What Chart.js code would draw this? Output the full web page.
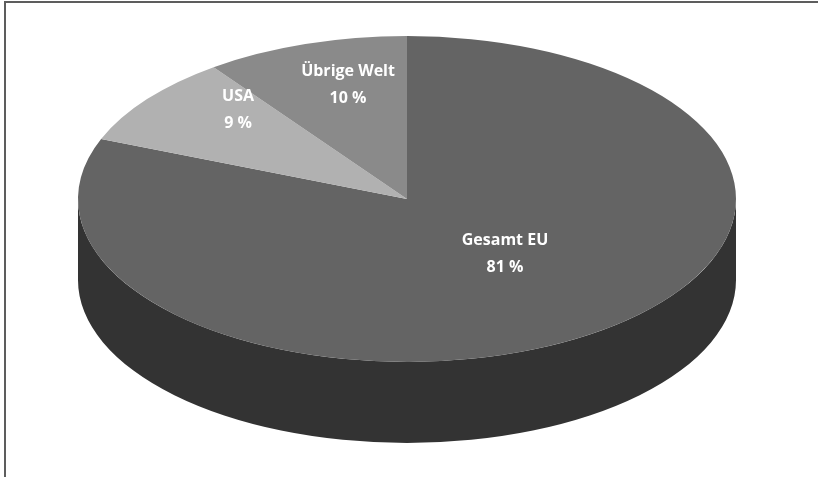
<!DOCTYPE html>
<html lang="de">
<head>
  <meta charset="UTF-8">
  <title>Anteile</title>
  <script src="https://cdn.jsdelivr.net/npm/chart.js"></script>
  <style>
    html, body { margin: 0; padding: 0; background: #fff; overflow: hidden; }
    #wrap { position: relative; width: 818px; height: 477px; }
  </style>
</head>
<body>
  <div id="wrap">
    <canvas id="pieChart" width="818" height="477"></canvas>
  </div>

<script>
  const regions = ['Gesamt EU', 'USA', 'Übrige Welt']
  const shares = [81, 9, 10]
  const topColors = ['#646464', '#b1b1b1', '#8a8a8a']
  const sideColors = ['#333333', '#5e5e5e', '#474747']

  // how far out each label sits, as a fraction of the radius (x, y)
  const labelReach = [[0.53, 0.41], [0.65, 0.89], [0.58, 0.735]]
  const depth = 81

  function ellipseCenter(chart) {
    const a = chart.chartArea
    return {
      cx: (a.left + a.right) / 2,
      cy: (a.top + a.bottom) / 2,
      sx: (a.right - a.left) / (a.bottom - a.top)
    }
  }

  // squashes the round pie into a tilted disc and draws its rim
  const tiltPlugin = {
    id: 'tilt',
    beforeDraw(chart) {
      const ctx = chart.ctx
      ctx.save()
      ctx.fillStyle = '#5d5d5d'
      ctx.fillRect(4, 1, 2, chart.height)
      ctx.fillRect(4, 1, chart.width, 2)
      ctx.restore()
    },
    beforeDatasetsDraw(chart) {
      const ctx = chart.ctx
      const { cx, cy, sx } = ellipseCenter(chart)
      const arcs = chart.getDatasetMeta(0).data

      ctx.save()
      ctx.translate(cx, cy)
      ctx.scale(sx, 1)
      ctx.translate(-cx, -cy)
      // only the front half of the rim can be seen
      arcs.forEach((arc, i) => {
        const s = Math.max(arc.startAngle, 0)
        const e = Math.min(arc.endAngle, Math.PI)
        if (s >= e) return
        ctx.beginPath()
        ctx.arc(arc.x, arc.y, arc.outerRadius, s, e)
        ctx.arc(arc.x, arc.y + depth, arc.outerRadius, e, s, true)
        ctx.closePath()
        ctx.fillStyle = sideColors[i]
        ctx.fill()
      })
      ctx.restore()

      ctx.save()
      ctx.translate(cx, cy)
      ctx.scale(sx, 1)
      ctx.translate(-cx, -cy)
    },
    afterDatasetsDraw(chart) {
      const ctx = chart.ctx
      ctx.restore()

      const { cx, cy, sx } = ellipseCenter(chart)
      const arcs = chart.getDatasetMeta(0).data
      ctx.save()
      ctx.fillStyle = '#ffffff'
      ctx.font = 'bold 16px "Open Sans"'
      ctx.textAlign = 'center'
      ctx.textBaseline = 'middle'
      arcs.forEach((arc, i) => {
        const mid = (arc.startAngle + arc.endAngle) / 2
        const x = cx + Math.cos(mid) * arc.outerRadius * sx * labelReach[i][0]
        const y = cy + Math.sin(mid) * arc.outerRadius * labelReach[i][1]
        ctx.fillText(regions[i], x, y - 13.5)
        ctx.fillText(shares[i] + ' %', x, y + 13.5)
      })
      ctx.restore()
    }
  }

  new Chart(document.getElementById('pieChart'), {
    type: 'pie',
    data: {
      labels: regions,
      datasets: [{
        data: shares,
        backgroundColor: topColors,
        borderWidth: 0,
        clip: false
      }]
    },
    options: {
      responsive: false,
      animation: false,
      events: [],
      layout: {
        padding: { top: 36, left: 78, right: 82, bottom: 115 }
      },
      plugins: {
        legend: { display: false },
        tooltip: { enabled: false }
      }
    },
    plugins: [tiltPlugin]
  })
</script>
</body>
</html>
